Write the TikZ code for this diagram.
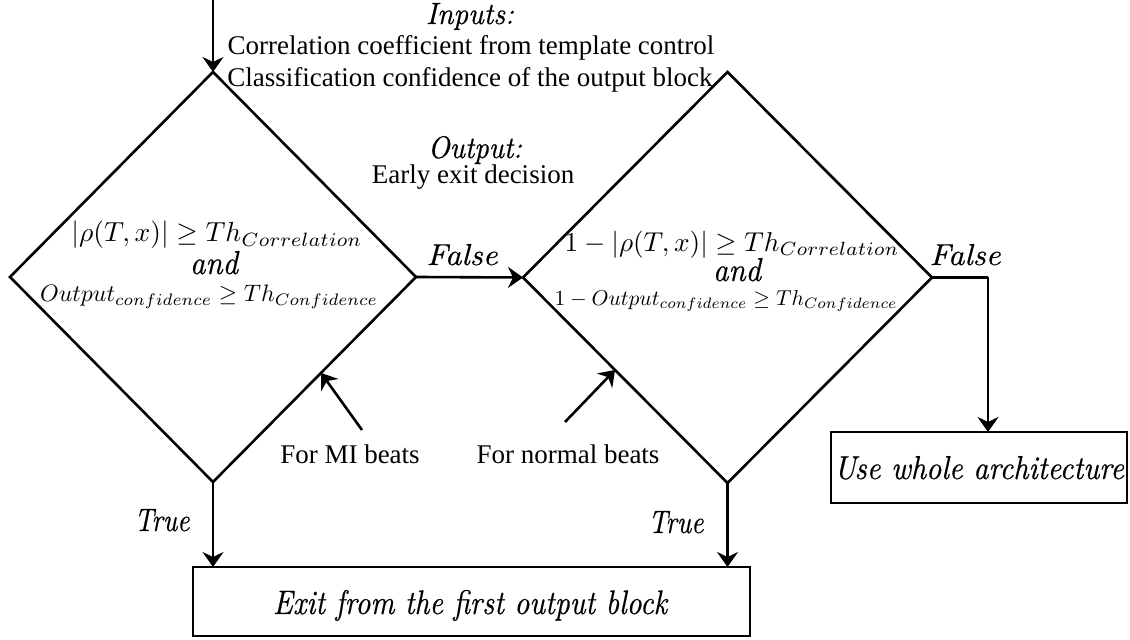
\documentclass[tikz,border=0pt]{standalone}
\usepackage[no-math]{fontspec}
\setmainfont{Liberation Serif}
\newfontfamily\itfam{lmroman10-italic.otf}[FakeBold=0.5]
\usepackage{graphicx}
\usetikzlibrary{shapes.geometric,arrows.meta,calc}
\newcommand{\fitw}[2]{\resizebox{#1}{!}{#2}}
\newcommand{\fitwh}[3]{\resizebox{#1}{#2}{#3}}
\begin{document}
\begin{tikzpicture}[x=0.5pt,y=-0.5pt,
  every node/.style={inner sep=0pt,outer sep=0pt},
  dia/.style={draw,shape=diamond,line width=1.3pt,inner sep=0pt,outer sep=0pt},
  boxnode/.style={draw,rectangle,line width=1.3pt,outer sep=0pt},
  arr/.style={line width=1.3pt,-{Stealth[length=7.5pt,width=10.5pt,inset=2.5pt]}},
  plain/.style={line width=1.3pt},
  reg/.style={font=\fontsize{13.5}{16}\selectfont},
  ital/.style={font=\fontsize{15.5}{18}\itfam}]
\useasboundingbox (0,0) rectangle (1130,640);
% diamonds
\node[dia,minimum width=203pt,minimum height=205pt] (d1) at (213,277) {};
\node[dia,minimum width=204.5pt,minimum height=205.5pt] (d2) at (727.5,277.5) {};
% boxes
\node[boxnode,minimum width=278.5pt,minimum height=34.5pt] (b1) at (471.5,601.5) {};
\node[ital,anchor=base] (b1t) at (470,614) {\fitwh{197pt}{12pt}{Exit from the first output block}};
\node[boxnode,minimum width=148pt,minimum height=35.5pt] (b2) at (979,467.5) {};
\node[ital,anchor=base] (b2t) at (979,479) {\fitwh{145pt}{11.5pt}{Use whole architecture}};
% header texts
\node[ital,anchor=base] (inp) at (470,24) {\fitwh{44pt}{10.5pt}{Inputs:}};
\node[reg] (in1) at (471,48) {Correlation coefficient from template control};
\node[reg] (in2) at (470,80) {Classification confidence of the output block};
\node[ital,anchor=base] (outp) at (475,158) {\fitwh{47pt}{11pt}{Output:}};
\node[reg] (out1) at (473,177) {Early exit decision};
% diamond 1 text
\node (c11) at (217,235) {\fitw{145.5pt}{$|\rho(T,x)|\geq Th_{Correlation}$}};
\node[ital,anchor=base] (c12) at (214,274) {\fitwh{24pt}{11.5pt}{and}};
\node (c13) at (209,297) {\fitw{169pt}{$Output_{confidence}\geq Th_{Confidence}$}};
% diamond 2 text
\node (c21) at (732,245) {\fitw{167.5pt}{$1-|\rho(T,x)|\geq Th_{Correlation}$}};
\node[ital,anchor=base] (c22) at (737,281) {\fitwh{24pt}{11.5pt}{and}};
\node (c23) at (726,301) {\fitw{171.5pt}{$1-Output_{confidence}\geq Th_{Confidence}$}};
% connectors
\coordinate (start) at (213,0);
\draw[arr] (start) -- (d1.north);
\draw[arr] (d1.east) -- (d2.west);
\node[ital,anchor=base] (f1) at (462,265) {\fitwh{35.5pt}{10.5pt}{False}};
\coordinate (corner) at (988,277.5);
\draw[plain] (d2.east) -- (corner);
\draw[arr] (corner) -- (corner |- b2.north);
\node[ital,anchor=base] (f2) at (965,265) {\fitwh{35.5pt}{10.5pt}{False}};
\draw[arr] (d1.south) -- (d1.south |- b1.north);
\node[ital,anchor=base] (t1) at (162,531) {\fitwh{27.5pt}{11pt}{True}};
\draw[arr] (d2.south) -- (d2.south |- b1.north);
\node[ital,anchor=base] (t2) at (676,533) {\fitwh{27.5pt}{11pt}{True}};
% annotation arrows
\coordinate (mi) at (362,430);
\draw[arr] (mi) -- ($(d1.east)!0.468!(d1.south)$);
\node[reg] (milab) at (350,454) {For MI beats};
\coordinate (nb) at (565,422);
\draw[arr] (nb) -- ($(d2.west)!0.45!(d2.south)$);
\node[reg] (nblab) at (568,454) {For normal beats};
\end{tikzpicture}
\end{document}
